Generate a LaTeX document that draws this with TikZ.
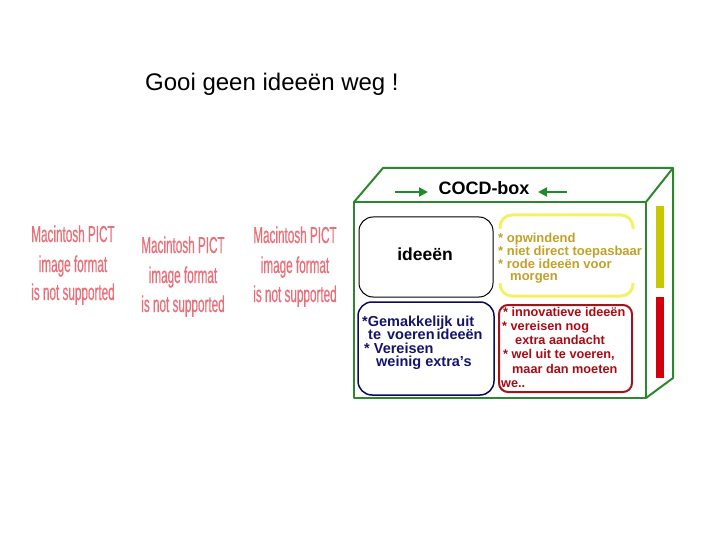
\documentclass[tikz,border=0pt]{standalone}
\usepackage{fontspec}
\setmainfont{Liberation Sans}
\newfontfamily\pictfont[FakeStretch=0.51,FakeBold=0.6]{Liberation Sans}
\usetikzlibrary{arrows.meta}
\definecolor{boxgreen}{RGB}{46,135,46}
\definecolor{arrgreen}{RGB}{30,140,40}
\definecolor{bary}{RGB}{200,200,0}
\definecolor{barr}{RGB}{210,0,10}
\definecolor{ybr}{RGB}{242,242,100}
\definecolor{ytext}{RGB}{195,160,40}
\definecolor{rtext}{RGB}{170,10,20}
\definecolor{rbox}{RGB}{160,20,30}
\definecolor{btext}{RGB}{20,20,110}
\definecolor{bbox}{RGB}{10,10,90}
\definecolor{pict}{RGB}{232,112,122}
\tikzset{
  txt/.style={inner sep=0pt, anchor=base west},
  ytxt/.style={txt, text=ytext, font=\fontsize{13}{13}\selectfont\bfseries},
  btxt/.style={txt, text=btext, font=\fontsize{14.5}{14.5}\selectfont\bfseries},
  rtxt/.style={txt, text=rtext, font=\fontsize{12.7}{12.7}\selectfont\bfseries},
  ptxt/.style={inner sep=0pt, anchor=base, text=pict, font=\fontsize{23}{23}\selectfont\pictfont},
  boxline/.style={draw=boxgreen, line width=2pt, line join=round},
  garrow/.style={draw=arrgreen, line width=2pt, -{Triangle[length=9pt,width=9pt]}},
}
\begin{document}
\begin{tikzpicture}[x=1pt,y=-1pt]
\useasboundingbox (0,0) rectangle (720,540);

% title
\node[txt, font=\fontsize{24}{24}\selectfont] (title) at (145,91) {Gooi geen ideeën weg !};

% PICT placeholders
\node[ptxt] (p11) at (73,242) {Macintosh PICT};
\node[ptxt] (p12) at (73,272) {image format};
\node[ptxt] (p13) at (73,300) {is not supported};
\node[ptxt] (p21) at (183,253) {Macintosh PICT};
\node[ptxt] (p22) at (183,283) {image format};
\node[ptxt] (p23) at (183,312) {is not supported};
\node[ptxt] (p31) at (295,243) {Macintosh PICT};
\node[ptxt] (p32) at (295,273) {image format};
\node[ptxt] (p33) at (295,302) {is not supported};

% 3D box
\draw[boxline] (354,202) -- (646,202) -- (646,398) -- (354,398) -- cycle;
\draw[boxline] (354,202) -- (383,168) -- (673,168) -- (646,202);
\draw[boxline] (673,168) -- (673,378) -- (646,398);

% bars on side
\fill[bary] (656,206) rectangle (664,288);
\fill[barr] (656,297) rectangle (664,378);

% header
\node[inner sep=0pt, anchor=base, font=\fontsize{18}{18}\selectfont\bfseries] (cocd) at (484,195) {COCD-box};
\coordinate (la) at (395,192);
\coordinate (lb) at (428,192);
\coordinate (ra) at (567,192);
\coordinate (rb) at (538,192);
\draw[garrow] (la) -- (lb);
\draw[garrow] (ra) -- (rb);

% black box
\draw[black, line width=1pt, rounded corners=14pt] (359,217) rectangle (493,297);
\node[inner sep=0pt, anchor=base, font=\fontsize{17.5}{17.5}\selectfont\bfseries] (idee) at (425,260) {ideeën};

% blue box
\draw[bbox, line width=1.5pt, rounded corners=14pt] (358,302) rectangle (494,395);
\node[btxt] (b1) at (362,326) {*Gemakkelijk uit};
\node[btxt] (b2) at (368,339) {te\hspace{6pt}voeren\hspace{2pt}ideeën};
\node[btxt] (b3) at (364,353) {* Vereisen};
\node[btxt] (b4) at (376,366) {weinig extra’s};

% yellow brackets
\draw[ybr, line width=3pt, rounded corners=12pt] (500,229) -- (500,215) -- (633,215) -- (633,229);
\draw[ybr, line width=3pt, rounded corners=12pt] (500,283) -- (500,296) -- (633,296) -- (633,283);
\node[ytxt] (y1) at (498,243) {* opwindend};
\node[ytxt] (y2) at (498,255.5) {* niet direct toepasbaar};
\node[ytxt] (y3) at (498,268) {* rode ideeën voor};
\node[ytxt] (y4) at (510,280.5) {morgen};

% red box
\draw[rbox, line width=2pt, rounded corners=9pt] (499,305) rectangle (632,392);
\node[rtxt] (r1) at (503,316.5) {* innovatieve ideeën};
\node[rtxt] (r2) at (502,330) {* vereisen nog};
\node[rtxt] (r3) at (515,344) {extra aandacht};
\node[rtxt] (r4) at (503,358) {* wel uit te voeren,};
\node[rtxt] (r5) at (512,373) {maar dan moeten};
\node[rtxt] (r6) at (501,387) {we..};
\end{tikzpicture}
\end{document}
